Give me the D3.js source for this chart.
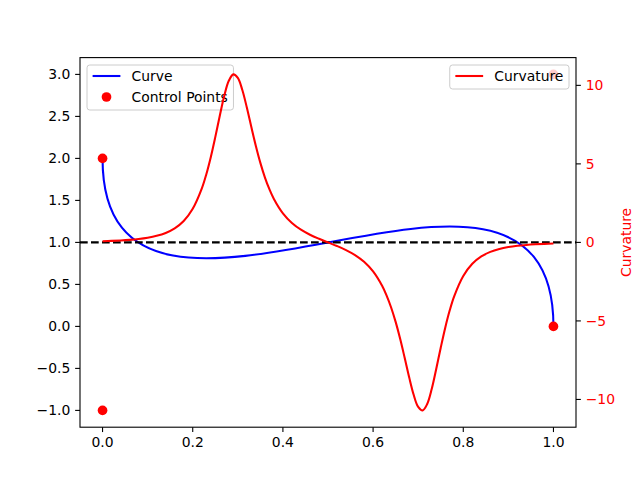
<!DOCTYPE html>
<html>
<head>
<meta charset="utf-8">
<script src="https://cdn.jsdelivr.net/npm/d3@7"></script>
<style>
  body { margin: 0; background: #fff; }
  text { font-family: "DejaVu Sans", sans-serif; }
</style>
</head>
<body>
<svg id="chart" width="640" height="480"></svg>
<script>
// ---- data ----
const controlX = [0, 0, 1, 1];
const controlY = [2, -1, 3, 0];
const tValues = [0, 0.02, 0.04, 0.06, 0.08, 0.10, 0.12, 0.14, 0.16, 0.18, 0.20, 0.22, 0.23, 0.24, 0.25, 0.26, 0.27, 0.28, 0.29, 0.30, 0.31, 0.32, 0.33, 0.34, 0.35, 0.36, 0.37, 0.38, 0.40, 0.42, 0.44, 0.46, 0.48, 0.50,
  0.52, 0.54, 0.56, 0.58, 0.60, 0.62, 0.63, 0.64, 0.65, 0.66, 0.67, 0.68, 0.69, 0.70, 0.71, 0.72, 0.73, 0.74, 0.75, 0.76, 0.77, 0.78, 0.80, 0.82, 0.84, 0.86, 0.88, 0.90, 0.92, 0.94, 0.96, 0.98, 1.0];
const curvature = [0.0741, 0.0948, 0.1231, 0.1623, 0.2180, 0.2989, 0.4193, 0.6035, 0.8936, 1.3635, 2.140, 3.422, 4.326, 5.428, 6.704, 8.066, 9.340, 10.290, 10.698, 10.476, 9.705, 8.588, 7.345, 6.140, 5.063, 4.146, 3.387, 2.767, 1.852, 1.238, 0.8085, 0.4889, 0.2307, 0,
  -0.2307, -0.4889, -0.8085, -1.238, -1.852, -2.767, -3.387, -4.146, -5.063, -6.140, -7.345, -8.588, -9.705, -10.476, -10.698, -10.290, -9.340, -8.066, -6.704, -5.428, -4.326, -3.422, -2.140, -1.3635, -0.8936, -0.6035, -0.4193, -0.2989, -0.2180, -0.1623, -0.1231, -0.0948, -0.0741];
const referenceLevel = 1;
const xTicks = [0, 0.2, 0.4, 0.6, 0.8, 1.0];
const leftTicks = [-1.0, -0.5, 0.0, 0.5, 1.0, 1.5, 2.0, 2.5, 3.0];
const rightTicks = [-10, -5, 0, 5, 10];
const legendLeft = ["Curve", "Control Points"];
const legendRight = ["Curvature"];

// ---- layout ----
const svg = d3.select("#chart");
const L = 80, R = 576, T = 57.6, B = 427.2;
const FS = 13.9;
const DOT_R = 4.85;
const fmt1 = d => d3.format(".1f")(d).replace("-", "\u2212");
const fmt0 = d => d3.format("d")(d).replace("-", "\u2212");

const x = d3.scaleLinear().domain([-0.05, 1.05]).range([L, R]);
const yL = d3.scaleLinear().domain([-1.2, 3.2]).range([B, T]);
const ext = d3.extent(curvature);
const pad = (ext[1] - ext[0]) * 0.05;
const yR = d3.scaleLinear().domain([ext[0] - pad, ext[1] + pad]).range([B, T]);

svg.append("defs").append("clipPath").attr("id", "clip")
  .append("rect").attr("x", L).attr("y", T).attr("width", R - L).attr("height", B - T);

const plot = svg.append("g").attr("clip-path", "url(#clip)");

// Bezier curve drawn through the scales
const p = d3.path();
p.moveTo(x(controlX[0]), yL(controlY[0]));
p.bezierCurveTo(x(controlX[1]), yL(controlY[1]), x(controlX[2]), yL(controlY[2]), x(controlX[3]), yL(controlY[3]));
plot.append("path").attr("d", p.toString()).attr("fill", "none").attr("stroke", "blue").attr("stroke-width", 2.08);

// control points
plot.selectAll("circle.cp").data(controlX.map((d, i) => [d, controlY[i]])).enter()
  .append("circle").attr("class", "cp")
  .attr("cx", d => x(d[0])).attr("cy", d => yL(d[1])).attr("r", DOT_R).attr("fill", "red");

// dashed reference line
plot.append("line").attr("x1", L).attr("x2", R).attr("y1", yL(referenceLevel)).attr("y2", yL(referenceLevel))
  .attr("stroke", "black").attr("stroke-width", 2.08).attr("stroke-dasharray", "7.7,3.3");

// legends
function legend(items, anchorLeft, draw) {
  const g = svg.append("g");
  const box = g.append("rect");
  const textX0 = 11.1 + 27.8 + 5.6;
  const rowH = 21;
  let maxW = 0;
  items.forEach((lab, i) => {
    const cy = 65 + 11 + i * rowH;
    const t = g.append("text").attr("y", cy).attr("dy", "0.35em").attr("font-size", FS).attr("fill", "#000").text(lab);
    maxW = Math.max(maxW, t.node().getComputedTextLength());
  });
  const w = textX0 + maxW + 5.6;
  const h = 11 + (items.length - 1) * rowH + 11 + 2;
  const left = anchorLeft ? 87 : 569 - w;
  box.attr("x", left).attr("y", 65).attr("width", w).attr("height", h).attr("rx", 2.8)
    .attr("fill", "white").attr("fill-opacity", 0.8).attr("stroke", "#cccccc").attr("stroke-width", 1);
  g.selectAll("text").attr("x", left + textX0);
  items.forEach((lab, i) => draw(g, i, left + 5.6, 65 + 11 + i * rowH));
}

legend(legendLeft, true, (g, i, hx, cy) => {
  if (i === 0) g.append("line").attr("x1", hx).attr("x2", hx + 27.8).attr("y1", cy).attr("y2", cy).attr("stroke", "blue").attr("stroke-width", 2.08);
  else g.append("circle").attr("cx", hx + 13.9).attr("cy", cy).attr("r", DOT_R).attr("fill", "red");
});

// ax2 curvature line
const line = d3.line().x((d, i) => x(tValues[i])).y(d => yR(d)).curve(d3.curveCatmullRom.alpha(0.5));
svg.append("g").attr("clip-path", "url(#clip)").append("path").datum(curvature).attr("d", line)
  .attr("fill", "none").attr("stroke", "red").attr("stroke-width", 2.08);

legend(legendRight, false, (g, i, hx, cy) => {
  g.append("line").attr("x1", hx).attr("x2", hx + 27.8).attr("y1", cy).attr("y2", cy).attr("stroke", "red").attr("stroke-width", 2.08);
});

// spines
svg.append("rect").attr("x", L).attr("y", T).attr("width", R - L).attr("height", B - T)
  .attr("fill", "none").attr("stroke", "black").attr("stroke-width", 1.1);

// axes
const tickLen = 4.86;
const xa = svg.append("g");
xTicks.forEach(v => {
  xa.append("line").attr("x1", x(v)).attr("x2", x(v)).attr("y1", B).attr("y2", B + tickLen).attr("stroke", "black").attr("stroke-width", 1.1);
  xa.append("text").attr("x", x(v)).attr("y", B + tickLen + 4.86).attr("dy", "0.76em").attr("text-anchor", "middle").attr("font-size", FS).attr("fill", "#000").text(fmt1(v));
});
const ya = svg.append("g");
leftTicks.forEach(v => {
  ya.append("line").attr("x1", L - tickLen).attr("x2", L).attr("y1", yL(v)).attr("y2", yL(v)).attr("stroke", "black").attr("stroke-width", 1.1);
  ya.append("text").attr("x", L - tickLen - 4.86).attr("y", yL(v)).attr("dy", "0.36em").attr("text-anchor", "end").attr("font-size", FS).attr("fill", "#000").text(fmt1(v));
});
const yb = svg.append("g");
rightTicks.forEach(v => {
  yb.append("line").attr("x1", R).attr("x2", R + tickLen).attr("y1", yR(v)).attr("y2", yR(v)).attr("stroke", "black").attr("stroke-width", 1.1);
  yb.append("text").attr("x", R + tickLen + 4.86).attr("y", yR(v)).attr("dy", "0.36em").attr("text-anchor", "start").attr("font-size", FS).attr("fill", "red").text(fmt0(v));
});
svg.append("text").attr("transform", `translate(631,${(T + B) / 2}) rotate(-90)`).attr("text-anchor", "middle")
  .attr("font-size", FS).attr("fill", "red").text("Curvature");
</script>
</body>
</html>
